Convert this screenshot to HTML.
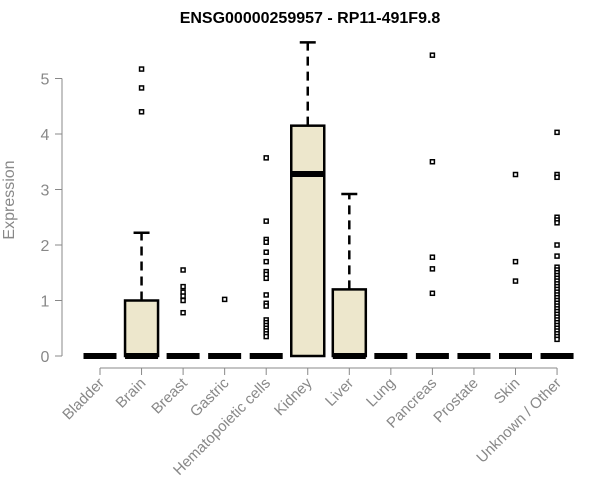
<!DOCTYPE html>
<html><head><meta charset="utf-8"><style>body{margin:0;background:#fff}svg{display:block}</style></head>
<body>
<svg id="chart" width="600" height="500" xmlns="http://www.w3.org/2000/svg" font-family="Liberation Sans, Arial, sans-serif">
<text x="310" y="23" text-anchor="middle" font-weight="bold" font-size="16">ENSG00000259957 - RP11-491F9.8</text>
<text transform="translate(14,200) rotate(-90)" text-anchor="middle" font-size="16" fill="#888">Expression</text>
<g id="plot"></g>
</svg>
<script>
const categories=["Bladder","Brain","Breast","Gastric","Hematopoietic cells","Kidney","Liver","Lung","Pancreas","Prostate","Skin","Unknown / Other"];
const q1=[0,0,0,0,0,0,0,0,0,0,0,0];
const medians=[0,0,0,0,0,3.28,0,0,0,0,0,0];
const q3=[0,1.0,0,0,0,4.15,1.2,0,0,0,0,0];
const whiskerHigh=[0,2.22,0,0,0,5.65,2.92,0,0,0,0,0];
const outliers=[[],[4.4,4.83,5.17],[1.55,1.25,1.15,1.08,1.0,0.78],[1.02],
[3.57,2.43,2.1,2.05,1.87,1.7,1.52,1.47,1.4,1.1,0.95,0.9,0.65,0.6,0.55,0.5,0.45,0.4,0.35],
[],[],[],[5.42,3.5,1.78,1.57,1.13],[],[3.27,1.7,1.35],
[4.03,3.27,3.22,2.5,2.45,2.4,2.0,1.8,1.6,1.55,1.5,1.45,1.4,1.35,1.3,1.25,1.2,1.15,1.1,1.05,1.0,0.95,0.9,0.85,0.8,0.75,0.7,0.65,0.6,0.55,0.5,0.45,0.4,0.35,0.3]];
const yTicks=[0,1,2,3,4,5];
const NS="http://www.w3.org/2000/svg";
const g=document.getElementById("plot");
const y=v=>356-v*55.5;
const x=i=>100+i*41.55;
function mk(t,a,p){const e=document.createElementNS(NS,t);for(const k in a)e.setAttribute(k,a[k]);(p||g).appendChild(e);return e;}
let ya=mk("line",{x1:62,x2:62,y1:y(0),y2:y(5),stroke:"#888"});


yTicks.forEach(v=>{
 const t=mk("line",{x1:55,x2:62,y1:y(v),y2:y(v),stroke:"#888"});
 
 
 const l=mk("text",{x:45,y:y(v)+6,"text-anchor":"middle","font-size":"16",fill:"#888"});
 l.textContent=v;
 
 
});
let xa=mk("line",{x1:x(0),x2:x(11),y1:368,y2:368,stroke:"#888"});


categories.forEach((c,i)=>{
 const cx=x(i),hw=16.5;
 const t=mk("line",{x1:cx,x2:cx,y1:368,y2:375,stroke:"#888"});
 
 
 const l=mk("text",{transform:`translate(${cx+5},384) rotate(-45)`,"text-anchor":"end","font-size":"15",fill:"#888"});
 l.textContent=c;
 
 
 if(whiskerHigh[i]>q3[i]){
  const w=mk("line",{x1:cx,x2:cx,y1:y(q3[i]),y2:y(whiskerHigh[i]),stroke:"#000","stroke-width":2.5,"stroke-dasharray":"9,6"});
  
  
  const cap=mk("line",{x1:cx-8,x2:cx+8,y1:y(whiskerHigh[i]),y2:y(whiskerHigh[i]),stroke:"#000","stroke-width":2.5});
  
  
 }
 if(q3[i]>q1[i]){
  const b=mk("rect",{x:cx-hw,y:y(q3[i]),width:2*hw,height:y(q1[i])-y(q3[i]),fill:"#ede7cc",stroke:"#000","stroke-width":2.5});
  
  
 }
 const m=mk("line",{x1:cx-hw,x2:cx+hw,y1:y(medians[i]),y2:y(medians[i]),stroke:"#000","stroke-width":6});
 
 
 outliers[i].forEach(v=>{
  const o=mk("rect",{x:cx-2,y:y(v)-2,width:4,height:4,fill:"#fff",stroke:"#000","stroke-width":1.5});
  
  
 });
});
</script>
</body></html>
